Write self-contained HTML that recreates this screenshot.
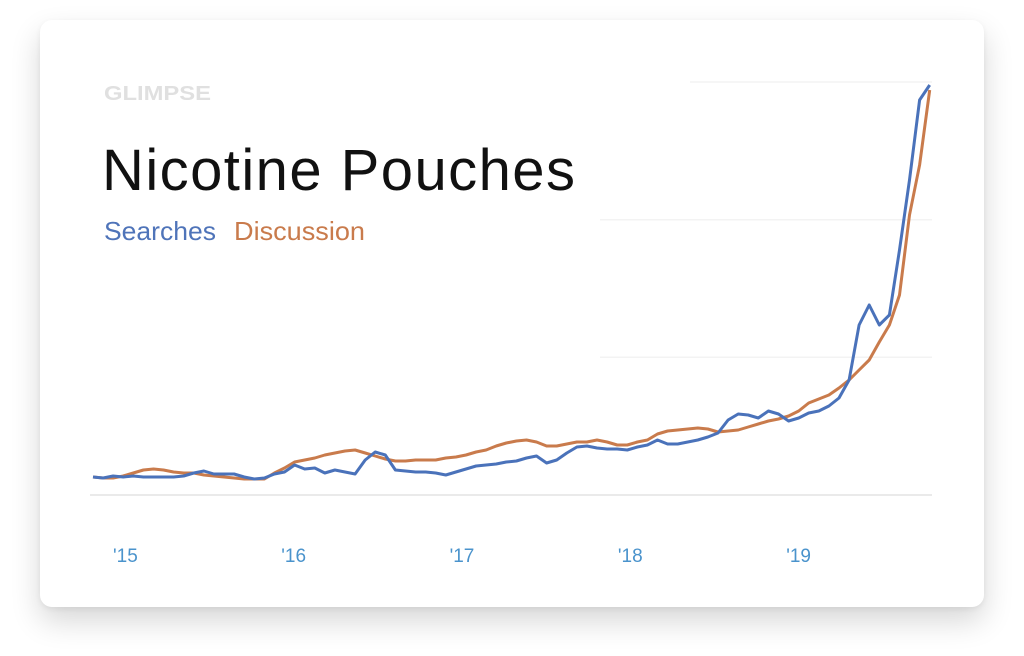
<!DOCTYPE html>
<html><head><meta charset="utf-8">
<style>
html,body{margin:0;padding:0;background:#fff;width:1024px;height:656px;overflow:hidden;font-family:"Liberation Sans",sans-serif;}
#card{position:absolute;left:40px;top:20px;width:944px;height:587px;background:#fff;border-radius:12px;box-shadow:0 14px 30px rgba(0,0,0,0.16),0 2px 6px rgba(0,0,0,0.06);}
svg{position:absolute;left:0;top:0;}
</style></head>
<body>
<div id="card"></div>
<svg id="chart" width="1024" height="656">
  <text x="104" y="100" font-size="20" font-weight="bold" fill="#e0e0e0" textLength="107" lengthAdjust="spacingAndGlyphs">GLIMPSE</text>
  <text x="102" y="190" font-size="58" fill="#111" textLength="473" lengthAdjust="spacing">Nicotine Pouches</text>
  <text x="104" y="240" font-size="26" fill="#4f74b9" textLength="112" lengthAdjust="spacingAndGlyphs">Searches</text>
  <text x="234" y="240" font-size="26" fill="#c97b4c" textLength="131" lengthAdjust="spacingAndGlyphs">Discussion</text>
  <g id="grid"></g><g id="xaxis"></g><g id="series"></g>
</svg>
<script>
const yTicks = [0, 137.7, 275.3, 413];
const xTickYears = [2015, 2016, 2017, 2018, 2019];
const xTickLabels = ["'15", "'16", "'17", "'18", "'19"];
const startYear = 2014.881;
const stepYears = 0.0599;
const searches = [18,17,19,18,19,18,18,18,18,19,22,24,21,21,21,18,16,17,21,23,30,26,27,22,25,23,21,35,43,40,25,24,23,23,22,20,23,26,29,30,31,33,34,37,39,32,35,42,48,49,47,46,46,45,48,50,55,51,51,53,55,58,62,75,81,80,77,84,81,74,77,82,84,89,97,115,170,190,170,180,245,315,395,410];
const discussion = [18,17,17,19,22,25,26,25,23,22,22,20,19,18,17,16,16,16,22,27,33,35,37,40,42,44,45,42,39,36,34,34,35,35,35,37,38,40,43,45,49,52,54,55,53,49,49,51,53,53,55,53,50,50,53,55,61,64,65,66,67,66,63,64,65,68,71,74,76,79,84,92,96,100,107,115,125,135,153,170,200,280,330,405];
const yMax = 413;
const NS = "http://www.w3.org/2000/svg";
function xScale(yr){ return 113 + (yr - 2015) * 168.3; }
function yScale(v){ return 495 - v / yMax * 413; }
const grid = document.getElementById('grid');
yTicks.forEach((t,i)=>{
  const l = document.createElementNS(NS,'line');
  
  
  l.setAttribute('x1', i===0 ? 90 : (i===3 ? 690 : 600)); l.setAttribute('x2', 932);
  l.setAttribute('y1', yScale(t)); l.setAttribute('y2', yScale(t));
  l.setAttribute('stroke', i===0 ? '#e4e4e4' : '#f3f3f3'); l.setAttribute('stroke-width', 1.5);
  grid.appendChild(l);
});
const xa = document.getElementById('xaxis');
xTickYears.forEach((yr,i)=>{
  const t = document.createElementNS(NS,'text');
  
  
  t.setAttribute('x', xScale(yr)); t.setAttribute('y', 562);
  t.setAttribute('font-size', 19); t.setAttribute('fill', '#4a93cc');
  t.textContent = xTickLabels[i];
  xa.appendChild(t);
});
function draw(vals, color, name){
  const d = vals.map((v,i)=>(i?'L':'M')+xScale(startYear + i*stepYears).toFixed(1)+','+yScale(v).toFixed(1)).join('');
  const p = document.createElementNS(NS,'path');
  
  
  p.setAttribute('d', d); p.setAttribute('fill','none'); p.setAttribute('stroke', color);
  p.setAttribute('stroke-width', 3); p.setAttribute('stroke-linejoin','round');
  document.getElementById('series').appendChild(p);
}
draw(discussion, '#c97b4c', 'discussion-line');
draw(searches, '#4a72ba', 'searches-line');
</script>
</body></html>
